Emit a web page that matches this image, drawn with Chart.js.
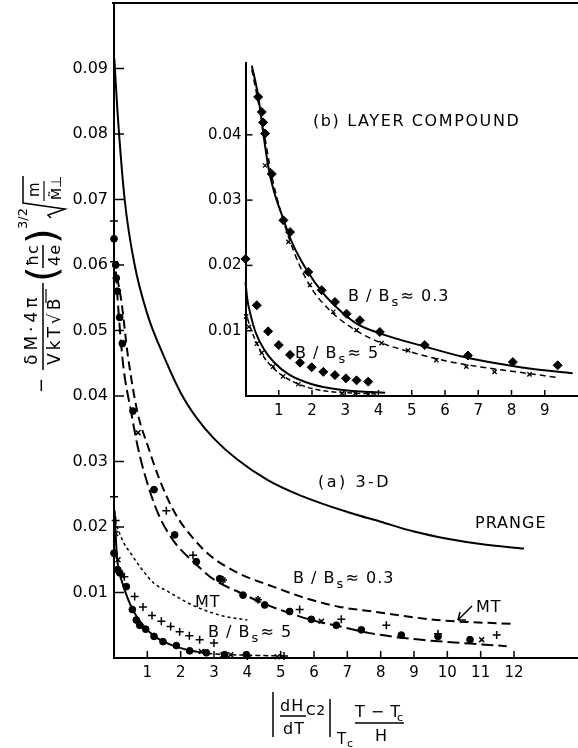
<!DOCTYPE html>
<html><head><meta charset="utf-8">
<script src="https://cdn.jsdelivr.net/npm/chart.js@4/dist/chart.umd.min.js"></script>
<style>
html,body{margin:0;padding:0;background:#fff;}
#wrap{position:relative;width:578px;height:748px;overflow:hidden;}
#main{position:absolute;left:0;top:0;}
#inset{position:absolute;left:190px;top:50px;}
</style></head><body>
<div id="wrap"><canvas id="main" width="578" height="748"></canvas><canvas id="inset" width="388" height="380"></canvas></div>
<script>
// ===== (a) 3-D : main panel =====
const prangeX = [0.01,0.1,0.32,0.6,1.0,1.5,2.0,2.5,3.0,3.7,4.6,5.6,7.0,8.0,9.0,10.0,11.0,12.3];
const prangeY = [0.0915,0.0838,0.070,0.0605,0.0525,0.0460,0.0405,0.0365,0.0335,0.0303,0.0272,0.0248,0.0223,0.0208,0.0193,0.0182,0.0174,0.0167];
const mt03X = [0.1,0.22,0.42,0.71,1.02,1.37,1.82,2.32,2.92,3.71,4.77,5.77,6.77,7.77,9.68,11.98];
const mt03Y = [0.058,0.0545,0.046,0.0374,0.0323,0.0272,0.0222,0.0186,0.0155,0.0130,0.0109,0.0091,0.0078,0.0071,0.0058,0.0052];
const fit03X = [0.06,0.11,0.27,0.52,0.71,0.97,1.32,1.77,2.42,3.02,3.77,4.5,5.3,6.0,6.8,7.67,8.97,10.68,11.78];
const fit03Y = [0.059,0.0547,0.045,0.0374,0.0323,0.0272,0.0221,0.0180,0.0145,0.0119,0.0100,0.0083,0.0068,0.0057,0.0048,0.0038,0.0029,0.0022,0.0018];
const mt5X = [0.03,0.11,0.3,0.5,0.8,1.2,1.6,2.3,3.2,4.0];
const mt5Y = [0.021,0.0198,0.0175,0.016,0.0138,0.0114,0.0102,0.0082,0.0065,0.0058];
const fit5X = [0.02,0.08,0.17,0.32,0.52,0.82,1.22,1.72,2.32,2.8];
const fit5Y = [0.0225,0.016,0.013,0.0104,0.0078,0.0053,0.0033,0.0020,0.0011,0.0007];
const fit5TailX = [2.8,3.5,4.3,5.1];
const fit5TailY = [0.0007,0.0005,0.0004,0.0003];
const dots03X = [0.0,0.05,0.07,0.1,0.17,0.25,0.57,1.2,1.82,2.47,3.17,3.87,4.52,5.27,5.92,6.67,7.42,8.62,9.72,10.68];
const dots03Y = [0.064,0.060,0.058,0.056,0.052,0.048,0.0377,0.0257,0.0188,0.0147,0.0121,0.0096,0.0081,0.0071,0.0059,0.0050,0.0043,0.0035,0.0033,0.0028];
const plus03X = [0.0,0.0,1.57,2.37,3.27,4.32,5.57,6.82,8.17,9.72,11.48];
const plus03Y = [0.0667,0.0605,0.0225,0.0157,0.0119,0.0089,0.0074,0.0059,0.0050,0.0037,0.0035];
const x03X = [0.72,3.27,4.32,6.22,11.03];
const x03Y = [0.0344,0.0119,0.0089,0.0056,0.0028];
const dots5X = [0.0,0.11,0.17,0.37,0.55,0.67,0.77,0.95,1.2,1.47,1.87,2.27,2.77,3.32,3.97];
const dots5Y = [0.016,0.0135,0.013,0.0109,0.0074,0.0058,0.0050,0.0044,0.0033,0.0025,0.0019,0.0011,0.0008,0.0005,0.0005];
const plus5X = [0.0,0.05,0.31,0.62,0.87,1.14,1.42,1.7,1.97,2.26,2.57,3.0,4.0,5.1];
const plus5Y = [0.0246,0.021,0.0124,0.0094,0.0078,0.0065,0.0056,0.0048,0.0040,0.0034,0.0028,0.0023,0.0003,0.0003];
const x5X = [0.05,0.12,0.25,2.62,3.27,3.5,4.9];
const x5Y = [0.019,0.015,0.0125,0.0010,0.0005,0.0005,0.0002];
const mainXTicks = [1,2,3,4,5,6,7,8,9,10,11,12];
const mainYTicks = ['0.01','0.02','0.03','0.04','0.05','0.06','0.07','0.08','0.09'];

// ===== (b) LAYER COMPOUND : inset =====
const in03SolidX = [0.19,0.38,0.53,0.68,0.83,1.13,1.39,1.84,2.34,2.84,3.34,4.04,5.44,6.54,7.54,8.54,9.84];
const in03SolidY = [0.0506,0.046,0.0404,0.0353,0.0318,0.0272,0.0236,0.0193,0.0157,0.0131,0.0111,0.0096,0.0075,0.0060,0.0050,0.0042,0.0035];
const in03DashX = [0.19,0.5,0.8,1.3,1.9,2.5,3.3,4.1,5.0,6.0,7.0,8.0,9.0,9.4];
const in03DashY = [0.0500,0.042,0.0335,0.0243,0.0172,0.0133,0.0101,0.0081,0.0067,0.0054,0.0045,0.0038,0.0031,0.0028];
const in03DiamX = [0.38,0.49,0.53,0.59,0.79,1.14,1.34,1.89,2.29,2.69,3.04,3.44,4.04,5.39,6.69,8.04,9.39];
const in03DiamY = [0.0458,0.0435,0.0419,0.0402,0.034,0.0269,0.0251,0.019,0.0162,0.0144,0.0126,0.0116,0.0098,0.0078,0.0062,0.0052,0.0047];
const in03CrossX = [0.59,1.29,1.94,2.64,3.34,4.09,4.89,5.74,6.64,7.49,8.54];
const in03CrossY = [0.0353,0.0236,0.017,0.0129,0.0101,0.0081,0.007,0.0055,0.0045,0.0037,0.0033];
const in5SolidX = [0.0,0.05,0.15,0.3,0.55,0.85,1.3,2.0,2.8,3.8,4.2];
const in5SolidY = [0.0175,0.015,0.0125,0.0098,0.0072,0.0052,0.0033,0.0018,0.001,0.0006,0.0005];
const in5DashX = [0.0,0.1,0.3,0.55,0.85,1.15,1.65,2.35,3.0,4.0];
const in5DashY = [0.013,0.0112,0.0085,0.006,0.0042,0.003,0.0017,0.0008,0.0005,0.0003];
const in5DiamX = [0.0,0.34,0.68,1.0,1.34,1.64,1.99,2.34,2.69,3.02,3.34,3.69];
const in5DiamY = [0.021,0.0139,0.0099,0.0078,0.0063,0.0051,0.0044,0.0037,0.0032,0.0027,0.0024,0.0022];
const in5CrossX = [0.02,0.1,0.34,0.49,0.83,1.13,1.59,2.9,3.3,3.7];
const in5CrossY = [0.0122,0.0106,0.008,0.0066,0.0045,0.003,0.0018,0.0004,0.0004,0.0003];
const insetXTicks = [1,2,3,4,5,6,7,8,9];
const insetYTicks = ['0.01','0.02','0.03','0.04'];

const FONT = 'DejaVu Sans';
const pts = (xs, ys) => xs.map((x, i) => ({x, y: ys[i]}));
const line = (xs, ys, dash, w) => ({data: pts(xs, ys), showLine: true, pointRadius: 0, borderColor: '#000',
  borderWidth: w || 2, borderDash: dash || [], cubicInterpolationMode: 'monotone', clip: false, fill: false});
const mark = (xs, ys, style, r, bw) => ({data: pts(xs, ys), showLine: false, pointStyle: style, pointRadius: r,
  pointBorderColor: '#000', pointBackgroundColor: '#000', pointBorderWidth: bw || 1, clip: false});

const innerTicks = {
  id: 'innerTicks',
  afterDraw(chart, args, o) {
    const {ctx, chartArea: ca, scales} = chart;
    ctx.save(); ctx.strokeStyle = '#000'; ctx.lineWidth = o.lw;
    o.xt.forEach(v => { const p = scales.x.getPixelForValue(v); ctx.beginPath(); ctx.moveTo(p, ca.bottom); ctx.lineTo(p, ca.bottom - o.xLen); ctx.stroke(); });
    o.yt.forEach(v => { const p = scales.y.getPixelForValue(+v); ctx.beginPath(); ctx.moveTo(ca.left, p); ctx.lineTo(ca.left + o.yLen, p); ctx.stroke(); });
    if (o.top) { ctx.lineWidth = 2; ctx.beginPath(); ctx.moveTo(ca.left - 2, ca.top); ctx.lineTo(ca.right, ca.top); ctx.stroke(); }
    ctx.restore();
  }
};

function T(ctx, s, x, y, size, ls, align) {
  ctx.font = size + 'px "' + FONT + '"';
  ctx.letterSpacing = (ls || 0) + 'px';
  ctx.textAlign = align || 'left';
  ctx.fillText(s, x, y);
}
function seg(ctx, x1, y1, x2, y2, w) { ctx.lineWidth = w || 1.5; ctx.beginPath(); ctx.moveTo(x1, y1); ctx.lineTo(x2, y2); ctx.stroke(); }
function bbs(ctx, x, y, tail) {
  T(ctx, 'B / B', x, y, 16, 1);
  const w = ctx.measureText('B / B').width;
  T(ctx, 's', x + w + 1, y + 5, 13, 0);
  T(ctx, tail, x + w + 10, y, 16, 1);
}

const annotations = {
  id: 'annotations',
  afterDraw(chart) {
    const ctx = chart.ctx;
    ctx.save(); ctx.fillStyle = '#000'; ctx.strokeStyle = '#000'; ctx.textBaseline = 'alphabetic';
    // main panel labels
    T(ctx, '(a) 3-D', 318, 487, 16, 2.5);
    T(ctx, 'PRANGE', 475, 528, 16, 1);
    bbs(ctx, 293, 583, '≈ 0.3');
    T(ctx, 'MT', 195, 607, 16, 1);
    bbs(ctx, 208, 637, '≈ 5');
    T(ctx, 'MT', 476, 612, 16, 1);
    seg(ctx, 458, 620, 472, 606); seg(ctx, 458, 620, 466, 620); seg(ctx, 458, 620, 460, 612);
    // inset labels
    T(ctx, '(b) LAYER COMPOUND', 313, 126, 16, 1.6);
    bbs(ctx, 348, 301, '≈ 0.3');
    bbs(ctx, 295, 358, '≈ 5');
    // x-axis title
    seg(ctx, 273, 692, 273, 737);
    T(ctx, 'dH', 280, 711, 16, 1);
    T(ctx, 'C2', 306, 715, 14, 0.5);
    seg(ctx, 280, 716, 306, 716);
    T(ctx, 'dT', 283, 734, 16, 1);
    seg(ctx, 330, 699, 330, 737);
    T(ctx, 'T', 337, 744, 15, 0);
    T(ctx, 'c', 347, 747, 11, 0);
    T(ctx, 'T − T', 355, 717, 16, 0.5);
    T(ctx, 'c', 397, 721, 11, 0);
    seg(ctx, 355, 723, 404, 723);
    T(ctx, 'H', 381, 741, 16, 0, 'center');
    // y-axis title (rotated)
    ctx.translate(43, 395); ctx.rotate(-Math.PI / 2);
    T(ctx, '−', 2, 4, 18, 0);
    T(ctx, 'δM·4π', 30, -6, 17, 4);
    seg(ctx, 25, 0, 112, 0);
    T(ctx, 'VkT√B', 30, 17, 17, 3);
    seg(ctx, 92, 3, 106, 3, 1.2);
    T(ctx, '(', 113, 13, 40, 0);
    T(ctx, 'ħc', 129, -5, 16, 1);
    seg(ctx, 127, 0, 150, 0);
    T(ctx, '4e', 129, 17, 16, 1);
    T(ctx, ')', 151, 13, 40, 0);
    T(ctx, '3/2', 166, -16, 13, 0);
    ctx.lineWidth = 1.5; ctx.beginPath();
    ctx.moveTo(177, 8); ctx.lineTo(180, 5); ctx.lineTo(186, 22); ctx.lineTo(192, -20); ctx.lineTo(219, -20); ctx.stroke();
    T(ctx, 'm', 198, -4, 15, 0);
    seg(ctx, 194, 1, 214, 1, 1.2);
    T(ctx, 'M\u0303⊥', 195, 18, 14, 0);
    ctx.restore();
  }
};

const baseScales = (xmax, ymax, ywidth, xheight, xt, yt, yfs, yPad) => ({
  x: {type: 'linear', min: 0, max: xmax, border: {display: true, color: '#000', width: 2},
      grid: {display: false, drawTicks: false},
      ticks: {stepSize: 1, autoSkip: false, maxRotation: 0, padding: 6, color: '#000', font: {family: FONT, size: 15},
              callback: v => xt.includes(v) ? String(v) : ''},
      afterFit: s => { s.height = xheight; s.paddingLeft = 0; s.paddingRight = 0; }},
  y: {type: 'linear', min: 0, max: ymax, border: {display: true, color: '#000', width: 2},
      grid: {display: false, drawTicks: false},
      ticks: {stepSize: 0.01, autoSkip: false, padding: yPad, color: '#000', font: {family: FONT, size: yfs},
              callback: v => yt.includes(Number(v).toFixed(2)) && Math.abs(v * 100 - Math.round(v * 100)) < 1e-6 ? Number(v).toFixed(2) : ''},
      afterFit: s => { s.width = ywidth; s.paddingTop = 0; s.paddingBottom = 0; }}
});

new Chart(document.getElementById('main'), {
  type: 'scatter',
  data: {datasets: [
    line(prangeX, prangeY, [], 2),
    line(mt03X, mt03Y, [9, 5], 2),
    line(fit03X, fit03Y, [12, 5], 2),
    line(mt5X, mt5Y, [3, 3], 1.5),
    line(fit5X, fit5Y, [], 2),
    line(fit5TailX, fit5TailY, [5, 3], 1.5),
    mark(dots03X, dots03Y, 'circle', 3.4),
    mark(plus03X, plus03Y, 'cross', 4, 1.5),
    mark(x03X, x03Y, 'crossRot', 3.5, 1.5),
    mark(dots5X, dots5Y, 'circle', 3.4),
    mark(plus5X, plus5Y, 'cross', 4, 1.5),
    mark(x5X, x5Y, 'crossRot', 3.5, 1.5)
  ]},
  options: {
    responsive: false, animation: false, devicePixelRatio: 1,
    layout: {autoPadding: false, padding: {top: 3, right: 0, left: 0, bottom: 0}},
    plugins: {legend: {display: false}, tooltip: {enabled: false},
      innerTicks: {xt: mainXTicks, yt: mainYTicks, xLen: 7, yLen: 10, lw: 1.5, top: true}},
    scales: baseScales(13.92, 0.1, 114, 90, mainXTicks, mainYTicks, 16, 6)
  },
  plugins: [innerTicks, annotations]
});

new Chart(document.getElementById('inset'), {
  type: 'scatter',
  data: {datasets: [
    line(in03SolidX, in03SolidY, [], 2),
    line(in03DashX, in03DashY, [6, 4], 1.5),
    line(in5SolidX, in5SolidY, [], 2),
    line(in5DashX, in5DashY, [5, 3], 1.5),
    mark(in03DiamX, in03DiamY, 'rectRot', 4.5),
    mark(in03CrossX, in03CrossY, 'crossRot', 3, 1.3),
    mark(in5DiamX, in5DiamY, 'rectRot', 4.5),
    mark(in5CrossX, in5CrossY, 'crossRot', 3, 1.3)
  ]},
  options: {
    responsive: false, animation: false, devicePixelRatio: 1,
    layout: {autoPadding: false, padding: {top: 13, right: 0, left: 0, bottom: 0}},
    plugins: {legend: {display: false}, tooltip: {enabled: false},
      innerTicks: {xt: insetXTicks, yt: insetYTicks, xLen: 6, yLen: 7, lw: 1.5, top: false}},
    scales: baseScales(10, 0.051, 55.5, 34, insetXTicks, insetYTicks, 15, 4)
  },
  plugins: [innerTicks]
});
</script>
</body></html>
